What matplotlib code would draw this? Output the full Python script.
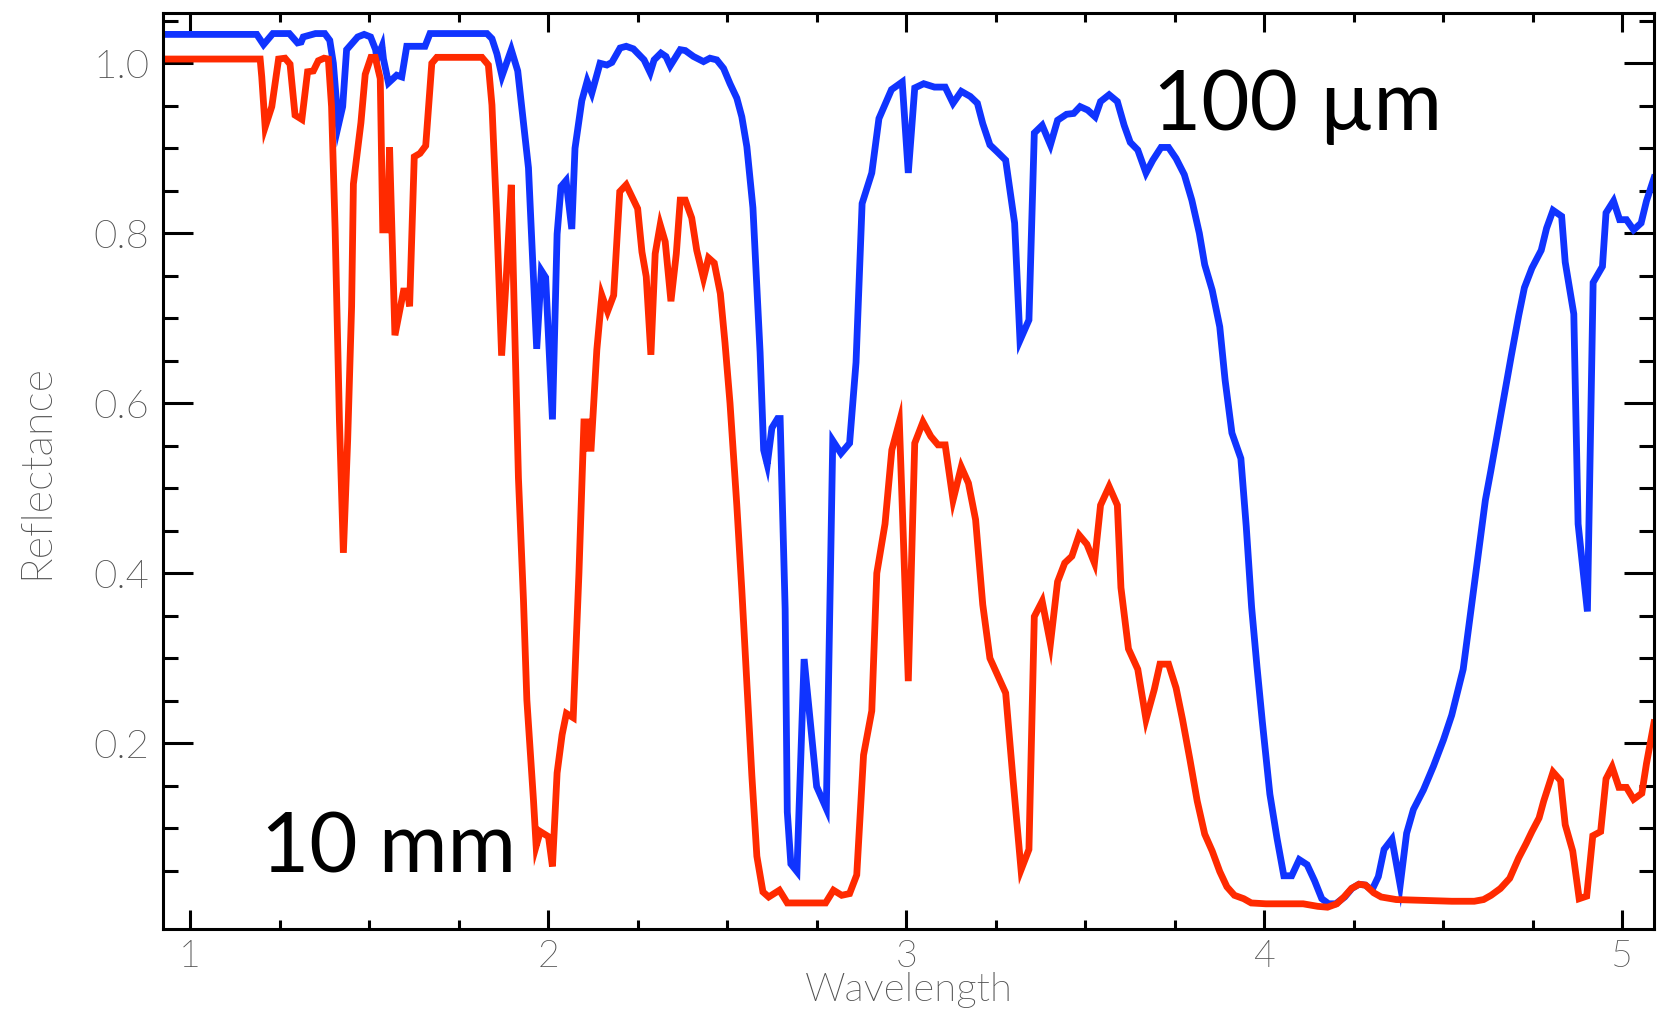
import os
import matplotlib
matplotlib.use("Agg")
import matplotlib.pyplot as plt
from matplotlib import font_manager as fm
from matplotlib.font_manager import FontProperties
from matplotlib.ticker import FixedLocator, MultipleLocator, FormatStrFormatter

plt.rcParams["font.family"] = ["Lato", "DejaVu Sans"]

# Reflectance spectrum, 100 um grain size
wl_100um = [0.925, 1.186, 1.205, 1.231, 1.277, 1.300, 1.310, 1.316, 1.350, 1.376,
            1.390, 1.400, 1.414, 1.426, 1.437, 1.468, 1.486, 1.504, 1.518, 1.522,
            1.536, 1.540, 1.554, 1.577, 1.591, 1.605, 1.656, 1.670, 1.829, 1.843,
            1.857, 1.871, 1.897, 1.915, 1.945, 1.968, 1.981, 1.993, 2.012, 2.025,
            2.036, 2.050, 2.066, 2.075, 2.094, 2.109, 2.122, 2.145, 2.164, 2.178,
            2.201, 2.218, 2.238, 2.252, 2.268, 2.285, 2.296, 2.315, 2.329, 2.341,
            2.369, 2.383, 2.406, 2.434, 2.452, 2.471, 2.490, 2.508, 2.527, 2.541,
            2.555, 2.572, 2.582, 2.592, 2.602, 2.612, 2.625, 2.641, 2.648, 2.662,
            2.668, 2.678, 2.695, 2.715, 2.750, 2.777, 2.795, 2.818, 2.842, 2.860,
            2.877, 2.904, 2.924, 2.959, 2.989, 3.006, 3.024, 3.049, 3.079, 3.109,
            3.131, 3.154, 3.179, 3.199, 3.214, 3.234, 3.254, 3.278, 3.303, 3.318,
            3.343, 3.358, 3.380, 3.403, 3.423, 3.448, 3.468, 3.486, 3.507, 3.528,
            3.543, 3.567, 3.590, 3.609, 3.626, 3.647, 3.670, 3.689, 3.712, 3.733,
            3.754, 3.777, 3.798, 3.819, 3.834, 3.855, 3.876, 3.891, 3.910, 3.935,
            3.950, 3.965, 3.980, 3.995, 4.016, 4.036, 4.055, 4.077, 4.098, 4.120,
            4.141, 4.161, 4.180, 4.200, 4.225, 4.245, 4.265, 4.283, 4.301, 4.319,
            4.335, 4.357, 4.380, 4.398, 4.417, 4.445, 4.473, 4.501, 4.524, 4.556,
            4.576, 4.597, 4.618, 4.633, 4.654, 4.690, 4.711, 4.727, 4.748, 4.774,
            4.789, 4.807, 4.831, 4.841, 4.865, 4.877, 4.903, 4.919, 4.945, 4.955,
            4.976, 4.993, 5.012, 5.032, 5.053, 5.068, 5.089]
refl_100um = [1.034, 1.034, 1.022, 1.035, 1.035, 1.024, 1.025, 1.031, 1.035, 1.035,
              1.027, 1.000, 0.927, 0.949, 1.016, 1.031, 1.034, 1.031, 1.016, 1.005,
              1.020, 1.005, 0.977, 0.986, 0.984, 1.020, 1.020, 1.035, 1.035, 1.029,
              1.011, 0.985, 1.016, 0.991, 0.877, 0.664, 0.756, 0.748, 0.581, 0.799,
              0.855, 0.862, 0.805, 0.900, 0.956, 0.979, 0.965, 1.000, 0.998, 1.001,
              1.018, 1.020, 1.017, 1.011, 1.004, 0.989, 1.004, 1.012, 1.008, 0.997,
              1.016, 1.015, 1.008, 1.002, 1.006, 1.004, 0.994, 0.976, 0.959, 0.937,
              0.902, 0.830, 0.745, 0.660, 0.545, 0.528, 0.571, 0.582, 0.582, 0.358,
              0.119, 0.058, 0.049, 0.299, 0.149, 0.123, 0.556, 0.541, 0.553, 0.648,
              0.835, 0.871, 0.935, 0.969, 0.978, 0.871, 0.971, 0.976, 0.972, 0.972,
              0.953, 0.967, 0.961, 0.953, 0.929, 0.904, 0.896, 0.886, 0.812, 0.674,
              0.698, 0.918, 0.927, 0.904, 0.933, 0.940, 0.941, 0.949, 0.945, 0.937,
              0.955, 0.963, 0.955, 0.927, 0.907, 0.898, 0.871, 0.886, 0.901, 0.901,
              0.888, 0.869, 0.839, 0.800, 0.763, 0.733, 0.690, 0.627, 0.565, 0.535,
              0.455, 0.360, 0.290, 0.225, 0.140, 0.088, 0.044, 0.044, 0.063, 0.057,
              0.038, 0.017, 0.011, 0.011, 0.019, 0.029, 0.034, 0.033, 0.027, 0.043,
              0.075, 0.087, 0.033, 0.094, 0.122, 0.145, 0.173, 0.204, 0.233, 0.287,
              0.351, 0.418, 0.486, 0.520, 0.570, 0.655, 0.703, 0.736, 0.759, 0.780,
              0.806, 0.827, 0.820, 0.766, 0.705, 0.458, 0.355, 0.742, 0.761, 0.824,
              0.838, 0.816, 0.816, 0.804, 0.812, 0.838, 0.865]

# Reflectance spectrum, 10 mm grain size
wl_10mm = [0.925, 1.1955, 1.200, 1.2095, 1.228, 1.247, 1.265, 1.279, 1.293, 1.312,
           1.328, 1.344, 1.358, 1.374, 1.386, 1.395, 1.405, 1.417, 1.428, 1.440,
           1.451, 1.456, 1.477, 1.489, 1.505, 1.517, 1.531, 1.538, 1.551, 1.557,
           1.572, 1.596, 1.607, 1.613, 1.626, 1.642, 1.658, 1.675, 1.689, 1.815,
           1.833, 1.843, 1.856, 1.870, 1.884, 1.897, 1.905, 1.917, 1.931, 1.9405,
           1.9497, 1.959, 1.9665, 1.978, 2.001, 2.012, 2.025, 2.039, 2.051, 2.070,
           2.086, 2.100, 2.107, 2.109, 2.120, 2.136, 2.150, 2.166, 2.183, 2.200,
           2.218, 2.234, 2.250, 2.262, 2.274, 2.287, 2.299, 2.313, 2.327, 2.343,
           2.358, 2.369, 2.383, 2.401, 2.415, 2.434, 2.448, 2.464, 2.481, 2.494,
           2.508, 2.527, 2.541, 2.555, 2.569, 2.583, 2.600, 2.616, 2.646, 2.668,
           2.775, 2.797, 2.820, 2.842, 2.862, 2.881, 2.904, 2.918, 2.941, 2.960,
           2.981, 3.006, 3.024, 3.047, 3.069, 3.089, 3.109, 3.131, 3.154, 3.174,
           3.194, 3.214, 3.234, 3.278, 3.298, 3.321, 3.343, 3.358, 3.380, 3.403,
           3.423, 3.443, 3.463, 3.483, 3.505, 3.526, 3.543, 3.567, 3.590, 3.600,
           3.621, 3.647, 3.670, 3.693, 3.709, 3.733, 3.754, 3.772, 3.793, 3.813,
           3.834, 3.855, 3.876, 3.896, 3.917, 3.943, 3.964, 4.005, 4.109, 4.150,
           4.177, 4.203, 4.223, 4.244, 4.265, 4.283, 4.306, 4.327, 4.369, 4.524,
           4.587, 4.613, 4.634, 4.660, 4.686, 4.711, 4.732, 4.748, 4.768, 4.781,
           4.807, 4.828, 4.841, 4.862, 4.880, 4.901, 4.918, 4.940, 4.955, 4.972,
           4.991, 5.012, 5.032, 5.055, 5.068, 5.089]
refl_10mm = [1.005, 1.005, 0.984, 0.925, 0.949, 1.005, 1.006, 0.999, 0.939, 0.934,
             0.990, 0.991, 1.003, 1.006, 1.005, 0.949, 0.804, 0.579, 0.424, 0.557,
             0.714, 0.858, 0.930, 0.987, 1.007, 1.007, 0.982, 0.804, 0.804, 0.901,
             0.680, 0.732, 0.732, 0.714, 0.890, 0.894, 0.903, 1.000, 1.007, 1.007,
             0.998, 0.951, 0.822, 0.656, 0.755, 0.857, 0.714, 0.512, 0.369, 0.251,
             0.192, 0.133, 0.079, 0.096, 0.090, 0.055, 0.165, 0.210, 0.235, 0.230,
             0.400, 0.578, 0.578, 0.547, 0.547, 0.663, 0.727, 0.708, 0.727, 0.849,
             0.857, 0.843, 0.829, 0.778, 0.749, 0.657, 0.776, 0.810, 0.790, 0.720,
             0.776, 0.839, 0.839, 0.818, 0.780, 0.747, 0.771, 0.765, 0.729, 0.671,
             0.600, 0.480, 0.380, 0.271, 0.162, 0.067, 0.025, 0.019, 0.027, 0.012,
             0.012, 0.027, 0.021, 0.023, 0.045, 0.186, 0.238, 0.400, 0.458, 0.545,
             0.578, 0.273, 0.553, 0.578, 0.561, 0.551, 0.551, 0.486, 0.525, 0.506,
             0.463, 0.363, 0.300, 0.259, 0.160, 0.051, 0.075, 0.349, 0.367, 0.317,
             0.390, 0.412, 0.420, 0.445, 0.434, 0.412, 0.480, 0.502, 0.480, 0.383,
             0.311, 0.287, 0.228, 0.263, 0.293, 0.293, 0.265, 0.228, 0.180, 0.132,
             0.093, 0.073, 0.049, 0.031, 0.021, 0.017, 0.012, 0.011, 0.011, 0.008,
             0.007, 0.011, 0.019, 0.029, 0.034, 0.033, 0.024, 0.019, 0.016, 0.014,
             0.014, 0.016, 0.021, 0.029, 0.041, 0.065, 0.082, 0.096, 0.112, 0.132,
             0.166, 0.156, 0.104, 0.073, 0.017, 0.020, 0.091, 0.096, 0.158, 0.172,
             0.148, 0.148, 0.134, 0.141, 0.176, 0.224]

x_major = [1, 2, 3, 4, 5]
y_major = [0.2, 0.4, 0.6, 0.8, 1.0]
y_minor = [0.05, 0.1, 0.15, 0.25, 0.3, 0.35, 0.45, 0.5, 0.55, 0.65, 0.7, 0.75,
           0.85, 0.9, 0.95, 1.05]

label_grey = "#505050"


def light_font(size):
    """Lato Light (not Thin/Hairline) if present, else the lightest regular match."""
    for entry in fm.fontManager.ttflist:
        base = os.path.basename(entry.fname).lower()
        if entry.name == "Lato" and "light" in base and "italic" not in base:
            return FontProperties(fname=entry.fname, size=size)
    return FontProperties(family="Lato", weight="normal", size=size)


fig = plt.figure(figsize=(16.63, 10.10), dpi=100)
ax = fig.add_axes([0.0982, 0.0799, 0.8966, 0.9075])

ax.plot(wl_100um, refl_100um, color="#1034ff", lw=4.9, solid_joinstyle="miter")
ax.plot(wl_10mm, refl_10mm, color="#ff2a00", lw=4.9, solid_joinstyle="miter")

ax.set_xlim(0.925, 5.09)
ax.set_ylim(-0.019, 1.0595)

ax.xaxis.set_major_locator(FixedLocator(x_major))
ax.xaxis.set_minor_locator(MultipleLocator(0.25))
ax.yaxis.set_major_locator(FixedLocator(y_major))
ax.yaxis.set_minor_locator(FixedLocator(y_minor))
ax.xaxis.set_major_formatter(FormatStrFormatter("%d"))
ax.yaxis.set_major_formatter(FormatStrFormatter("%.1f"))

for side in ax.spines.values():
    side.set_linewidth(2.2)
    side.set_color("black")

ax.tick_params(which="both", direction="in", top=True, right=True, width=2.2,
               color="black", labelcolor=label_grey)
ax.tick_params(axis="x", which="major", length=13.5, pad=8)
ax.tick_params(axis="x", which="minor", length=6.7)
ax.tick_params(axis="y", which="major", length=21.6, pad=10)
ax.tick_params(axis="y", which="minor", length=10.8)

for lbl in ax.get_xticklabels():
    lbl.set_fontproperties(light_font(27))
for lbl in ax.get_yticklabels():
    lbl.set_fontproperties(light_font(29))

ax.set_xlabel("Wavelength", color=label_grey, fontproperties=light_font(29))
ax.set_ylabel("Reflectance", color=label_grey, fontproperties=light_font(31))
ax.xaxis.label.set_va("center")
ax.yaxis.label.set_va("center")
ax.xaxis.set_label_coords(0.5, -0.0665)
ax.yaxis.set_label_coords(-0.0847, 0.5)

ax.text(1.197, 0.0474, "10 mm", fontsize=60, fontweight="normal", color="black",
        ha="left", va="baseline")
ax.text(3.69, 0.921, "100 µm", fontsize=60, fontweight="normal", color="black",
        ha="left", va="baseline")

fig.savefig("out.png", dpi=100)
